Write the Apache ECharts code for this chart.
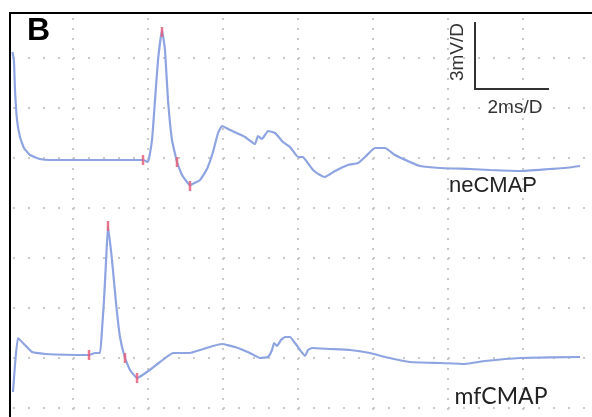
<!DOCTYPE html>
<html>
<head>
<meta charset="utf-8">
<script src="https://cdn.jsdelivr.net/npm/echarts@6/dist/echarts.min.js"></script>
<style>
html,body{margin:0;padding:0;background:#fff;}
#chart{width:592px;height:417px;}
</style>
</head>
<body>
<div id="chart"></div>
<script>
// ---- data (time in ms, voltage in mV relative to each trace's baseline) ----
const neTime = [0.387,0.427,0.453,0.507,0.587,0.693,0.853,1.12,1.387,3.867,4.0,4.107,4.187,4.267,4.373,4.453,4.533,4.64,4.773,4.907,5.12,5.387,5.573,5.733,5.867,5.973,6.187,6.587,6.853,6.933,7.04,7.2,7.387,7.6,7.787,8.0,8.133,8.24,8.4,8.587,8.72,8.987,9.333,9.6,9.787,10.053,10.32,10.587,10.987,11.253,11.787,12.587,13.12,13.92,14.72,15.12,15.52];
const neVolt = [6.48,5.88,4.2,2.4,1.38,0.72,0.3,0.06,0,0,-0.12,1.2,3.6,6.0,7.8,6.6,3.6,1.2,-0.12,-0.9,-1.5,-1.2,-0.54,0.48,1.62,2.04,1.8,1.38,0.96,1.44,1.26,1.74,1.62,1.08,0.78,0.18,0.18,-0.12,-0.6,-0.9,-1.02,-0.66,-0.3,-0.18,0.18,0.72,0.72,0.3,-0.12,-0.36,-0.48,-0.54,-0.6,-0.66,-0.54,-0.48,-0.36];
const neMarkTime = [3.867,4.373,4.773,5.12];
const neMarkVolt = [0,7.68,-0.12,-1.56];

const mfTime = [0.4,0.453,0.533,0.72,0.907,1.253,2.427,2.587,2.72,2.773,2.827,2.88,2.933,3.04,3.147,3.253,3.387,3.52,3.707,3.973,4.32,4.667,5.12,5.387,5.733,5.973,6.32,6.72,6.987,7.2,7.307,7.36,7.44,7.547,7.653,7.787,7.92,8.053,8.187,8.267,8.373,8.853,9.387,9.92,10.32,10.987,11.787,12.453,12.987,13.92,15.52];
const mfVolt = [-2.28,-0.66,0.96,0.54,0.12,0,-0.06,0.06,0.06,1.44,3.24,5.52,7.68,5.64,3.06,1.02,-0.24,-0.96,-1.44,-1.08,-0.48,0.06,0.06,0.24,0.48,0.6,0.42,0.06,-0.24,-0.18,0.24,0.66,0.48,0.84,1.02,1.02,0.66,0.24,-0.12,0.24,0.36,0.3,0.24,0.06,-0.18,-0.48,-0.54,-0.6,-0.42,-0.24,-0.18];
const mfMarkTime = [2.427,2.933,3.387,3.707];
const mfMarkVolt = [-0.06,7.68,-0.24,-1.44];

// display offsets (mV) that stack the two traces on the screen
const neOffset = 17.88;
const mfOffset = 6.24;

// grid divisions
const xDiv = 2;   // ms per division
const yDiv = 3;   // mV per division
const xMax = 16;
const yMax = 30;

const labels = {panel: 'B', yScale: '3mV/D', xScale: '2ms/D', ne: 'neCMAP', mf: 'mfCMAP'};

// ---- build ----
const pair = (t, v, off) => t.map((x, i) => [x, v[i] + off]);
const traceColor = '#8ea4e2';
const markColor = '#e8607a';

const chart = echarts.init(document.getElementById('chart'), null, {renderer: 'canvas'});
chart.setOption({
  animation: false,
  backgroundColor: '#fff',
  grid: {left: -2, top: -42, width: 600, height: 500, containLabel: false, outerBoundsMode: 'none'},
  xAxis: {
    type: 'value', min: 0, max: xMax, interval: xDiv,
    axisLine: {show: false}, axisTick: {show: false}, axisLabel: {show: false},
    splitLine: {show: true, lineStyle: {color: '#cacaca', width: 2, type: [2, 8]}}
  },
  yAxis: {
    type: 'value', min: 0, max: yMax, interval: yDiv,
    axisLine: {show: false}, axisTick: {show: false}, axisLabel: {show: false},
    splitLine: {show: true, lineStyle: {color: '#cacaca', width: 2, type: [2, 13]}}
  },
  series: [
    {type: 'line', data: pair(neTime, neVolt, neOffset), showSymbol: false, smooth: 0.12,
     lineStyle: {color: traceColor, width: 2.2}, z: 3},
    {type: 'line', data: pair(mfTime, mfVolt, mfOffset), showSymbol: false, smooth: 0.12,
     lineStyle: {color: traceColor, width: 2.2}, z: 3},
    {type: 'scatter', data: pair(neMarkTime, neMarkVolt, neOffset), symbol: 'rect', symbolSize: [2.5, 10],
     itemStyle: {color: markColor, opacity: 0.85}, z: 4},
    {type: 'scatter', data: pair(mfMarkTime, mfMarkVolt, mfOffset), symbol: 'rect', symbolSize: [2.5, 10],
     itemStyle: {color: markColor, opacity: 0.85}, z: 4}
  ],
  graphic: [
    {type: 'rect', shape: {x: 0, y: 0, width: 592, height: 12}, style: {fill: '#fff'}, z: 100, silent: true},
    {type: 'rect', shape: {x: 0, y: 0, width: 9, height: 417}, style: {fill: '#fff'}, z: 100, silent: true},
    {type: 'polyline', shape: {points: [[10, 417], [10, 13], [592, 13]]}, style: {fill: null, stroke: '#000', lineWidth: 2}, z: 101, silent: true},
    {type: 'text', x: 38.5, y: 31.5, z: 102,
     style: {text: labels.panel, font: 'bold 32px "Liberation Sans", Arial, sans-serif', fill: '#000', align: 'center', verticalAlign: 'middle'}},
    {type: 'polyline', shape: {points: [[475, 22], [475, 89], [549, 89]]}, style: {stroke: '#333', lineWidth: 2, fill: null}, z: 102},
    {type: 'text', x: 458, y: 52, rotation: Math.PI / 2, z: 102,
     style: {text: labels.yScale, font: '19px "Liberation Sans", Arial, sans-serif', fill: '#333', align: 'center', verticalAlign: 'middle'}},
    {type: 'text', x: 515, y: 108, z: 102,
     style: {text: labels.xScale, font: '19px "Liberation Sans", Arial, sans-serif', fill: '#333', align: 'center', verticalAlign: 'middle'}},
    {type: 'text', x: 493, y: 186, z: 102,
     style: {text: labels.ne, font: '22px "Liberation Sans", Arial, sans-serif', fill: '#222', align: 'center', verticalAlign: 'middle'}},
    {type: 'text', x: 501, y: 397, z: 102,
     style: {text: labels.mf, font: '23px Lato, "Open Sans", sans-serif', fill: '#222', align: 'center', verticalAlign: 'middle'}}
  ]
});
</script>
</body>
</html>
